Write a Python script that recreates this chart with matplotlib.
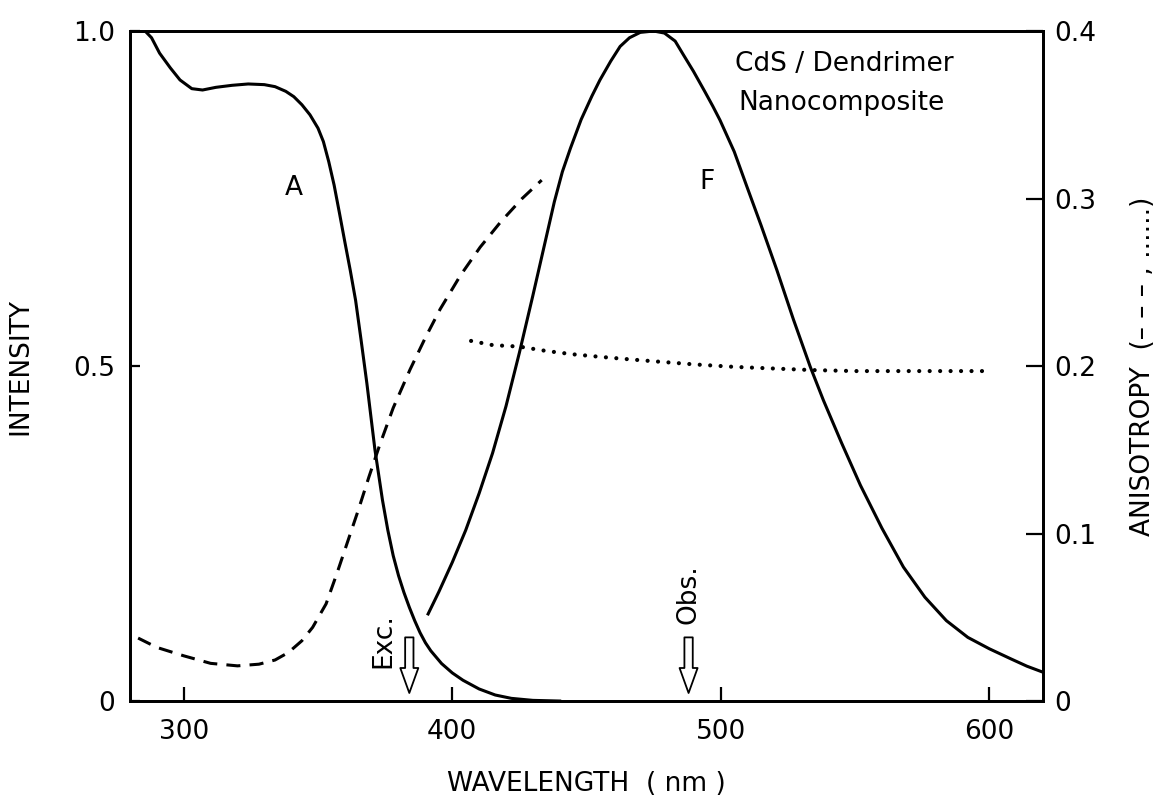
import numpy as np
import matplotlib
matplotlib.use("Agg")
import matplotlib.pyplot as plt

plt.rcParams['font.family'] = ['DejaVu Sans']
plt.rcParams['font.size'] = 19

# absorption spectrum A (left axis)
abs_nm = [285.6, 288, 291, 295, 298.6, 303, 307, 312, 318, 324, 330, 334, 338, 341,
          344, 347, 350, 352, 354, 356, 358, 360, 362, 364, 366, 368.2, 371.2, 374, 376,
          378, 380, 382, 384, 386, 388, 390, 392, 396, 400, 404, 410, 416, 422, 430, 440]
abs_int = [1.0, 0.99, 0.967, 0.945, 0.927, 0.914, 0.912, 0.916, 0.919, 0.921, 0.92, 0.917,
           0.91, 0.902, 0.89, 0.875, 0.855, 0.835, 0.805, 0.77, 0.728, 0.685, 0.643, 0.598,
           0.54, 0.474, 0.375, 0.3, 0.255, 0.217, 0.187, 0.162, 0.14, 0.12, 0.102, 0.087,
           0.075, 0.056, 0.042, 0.031, 0.018, 0.009, 0.004, 0.001, 0.0]

# fluorescence spectrum F (left axis)
fl_nm = [391, 395, 400, 405, 410, 415, 420, 425, 430, 434, 438, 441, 444, 448, 452,
         455, 459, 462.5, 466, 470, 475, 479, 483, 486, 489.8, 494, 497, 499.7, 505, 509.7,
         515, 520.9, 527, 533.3, 538.2, 545, 552, 560, 568, 576, 584, 592, 600, 608, 614, 620]
fl_int = [0.13, 0.163, 0.207, 0.255, 0.31, 0.37, 0.44, 0.52, 0.605, 0.675, 0.745, 0.79,
          0.825, 0.868, 0.903, 0.927, 0.955, 0.977, 0.99, 0.998, 1.0, 0.997, 0.985, 0.965,
          0.94, 0.91, 0.888, 0.867, 0.82, 0.768, 0.71, 0.643, 0.57, 0.499, 0.449, 0.385,
          0.322, 0.258, 0.2, 0.155, 0.12, 0.095, 0.078, 0.063, 0.052, 0.043]

# excitation anisotropy (dashed, right axis)
exc_nm = [283, 290, 300, 310, 320, 328, 334, 339, 344, 348, 353, 357, 361, 365, 369, 373,
          378, 384.3, 390, 395.5, 403, 410.4, 418, 426, 433.3]
exc_r = [0.0376, 0.032, 0.027, 0.0225, 0.021, 0.022, 0.0245, 0.029, 0.036, 0.044, 0.058,
         0.076, 0.095, 0.114, 0.134, 0.153, 0.175, 0.198, 0.217, 0.234, 0.254, 0.271,
         0.286, 0.3, 0.311]

# emission anisotropy (dotted, right axis)
em_nm = [407, 415, 425, 435, 445, 455, 466, 477, 490, 505, 520, 534, 550, 565, 580, 598]
em_r = [0.215, 0.2125, 0.2116, 0.209, 0.207, 0.2055, 0.204, 0.2026, 0.201, 0.1995,
        0.1985, 0.1976, 0.197, 0.197, 0.197, 0.197]

exc_wl = 384
obs_wl = 488

fig = plt.figure(figsize=(11.57, 7.96), dpi=100)
ax = fig.add_axes([0.1124, 0.1193, 0.7891, 0.8417])
ax2 = ax.twinx()

ax.plot(abs_nm, abs_int, color='black', lw=2.2)
ax.plot(fl_nm, fl_int, color='black', lw=2.2)
ax2.plot(exc_nm, exc_r, color='black', lw=2.2, linestyle=(0, (4.6, 3.0)))
ax2.plot(em_nm, em_r, color='black', lw=3.0, linestyle=(0, (0.01, 2.5)),
         dash_capstyle='round')

ax.set_xlim(280, 620)
ax.set_ylim(0, 1.0)
ax2.set_ylim(0, 0.4)

ax.set_xticks([300, 400, 500, 600])
ax.set_yticks([0, 0.5, 1.0])
ax.set_yticklabels(['0', '0.5', '1.0'])
ax2.set_yticks([0, 0.1, 0.2, 0.3, 0.4])
ax2.set_yticklabels(['0', '0.1', '0.2', '0.3', '0.4'])

ax.tick_params(axis='x', direction='in', length=10, width=1.6, pad=13)
ax.tick_params(axis='y', direction='in', length=7, width=1.6, pad=11)
ax2.tick_params(axis='y', direction='in', length=12, width=1.6, pad=8)
for a in (ax, ax2):
    for s in a.spines.values():
        s.set_linewidth(2)

ax.set_xlabel('WAVELENGTH  ( nm )')
ax.xaxis.set_label_coords(0.5, -0.105)
ax.set_ylabel('INTENSITY')
ax.yaxis.set_label_coords(-0.106, 0.5)
ax2.set_ylabel('ANISOTROPY  (– – – , ......)')
ax2.yaxis.set_label_coords(1.095, 0.5)

ax.text(341, 0.765, 'A', ha='center', va='center')
ax.text(495, 0.775, 'F', ha='center', va='center')
ax.text(505.3, 0.951, 'CdS / Dendrimer', ha='left', va='center')
ax.text(506.4, 0.893, 'Nanocomposite', ha='left', va='center')

arrow = dict(arrowstyle='simple,head_width=0.65,head_length=0.9,tail_width=0.3',
             fc='white', ec='black', lw=1.3, shrinkA=0, shrinkB=0, mutation_scale=20)
ax.annotate('', xy=(exc_wl, 0.012), xytext=(exc_wl, 0.095), arrowprops=arrow)
ax.annotate('', xy=(obs_wl, 0.012), xytext=(obs_wl, 0.095), arrowprops=arrow)
ax.text(374.2, 0.049, 'Exc.', rotation=90, ha='center', va='bottom')
ax.text(obs_wl, 0.115, 'Obs.', rotation=90, ha='center', va='bottom')

fig.savefig('out.png', dpi=100)
